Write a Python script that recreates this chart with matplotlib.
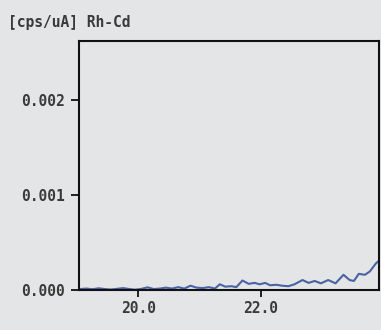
import matplotlib
matplotlib.use("Agg")
import matplotlib.pyplot as plt

# Energy (keV) and Rh-Cd intensity (cps/uA)
energy = [19.05, 19.15, 19.25, 19.35, 19.45, 19.55, 19.65, 19.75, 19.85, 19.95,
          20.05, 20.15, 20.25, 20.35, 20.45, 20.55, 20.65, 20.75, 20.85, 20.95,
          21.05, 21.15, 21.25, 21.33, 21.42, 21.52, 21.60, 21.70, 21.80, 21.90,
          21.98, 22.07, 22.15, 22.25, 22.35, 22.45, 22.55, 22.68, 22.78, 22.88,
          22.98, 23.10, 23.22, 23.35, 23.45, 23.52, 23.60, 23.70, 23.78, 23.88,
          23.95]
intensity = [1.0, 1.5, 0.8, 1.8, 1.0, 0.5, 1.2, 2.0, 1.0, 0.3,
             1.2, 2.8, 1.0, 1.5, 2.5, 1.5, 3.0, 1.5, 4.5, 2.5,
             2.0, 3.0, 1.5, 6.0, 3.5, 4.0, 3.0, 10.0, 6.5, 7.5,
             6.0, 7.5, 5.0, 5.5, 4.5, 4.0, 6.0, 10.5, 7.5, 9.5,
             7.0, 10.5, 7.0, 16.0, 10.5, 9.5, 17.0, 16.0, 19.5, 28.0,
             32.0]
intensity = [v * 1e-5 for v in intensity]

y_ticks = [0.000, 0.001, 0.002]
y_tick_labels = ["0.000", "0.001", "0.002"]
x_ticks = [20.0, 22.0]
x_tick_labels = ["20.0", "22.0"]

bg = "#e3e5e6"
ink = "#3a3a3a"
font = "DejaVu Sans Mono"

fig = plt.figure(figsize=(3.81, 3.30), dpi=100, facecolor=bg)
ax = fig.add_axes([79 / 381, 1 - 290 / 330, 300 / 381, 249 / 330], facecolor=bg)

ax.plot(energy, intensity, color="#4a63a3", lw=1.5, clip_on=True)

ax.set_xlim(19.03, 23.93)
ax.set_ylim(0, 0.00262)

ax.set_yticks(y_ticks)
ax.set_yticklabels(y_tick_labels, fontfamily=font, fontsize=10.5,
                   fontweight="bold", color=ink)
ax.set_xticks(x_ticks)
ax.set_xticklabels(x_tick_labels, fontfamily=font, fontsize=10.5,
                   fontweight="bold", color=ink)
ax.tick_params(axis="y", direction="out", length=6, width=1.3, color="#111111", pad=4)
ax.tick_params(axis="x", direction="out", length=5, width=1.3, color="#111111", pad=3)

for s in ax.spines.values():
    s.set_linewidth(1.5)
    s.set_color("#111111")

fig.text(8 / 381, 1 - 22 / 330, "[cps/uA] Rh-Cd", fontfamily=font, fontsize=10.5,
         fontweight="bold", color=ink, va="center", ha="left")

fig.savefig("out.png", dpi=100, facecolor=bg)
